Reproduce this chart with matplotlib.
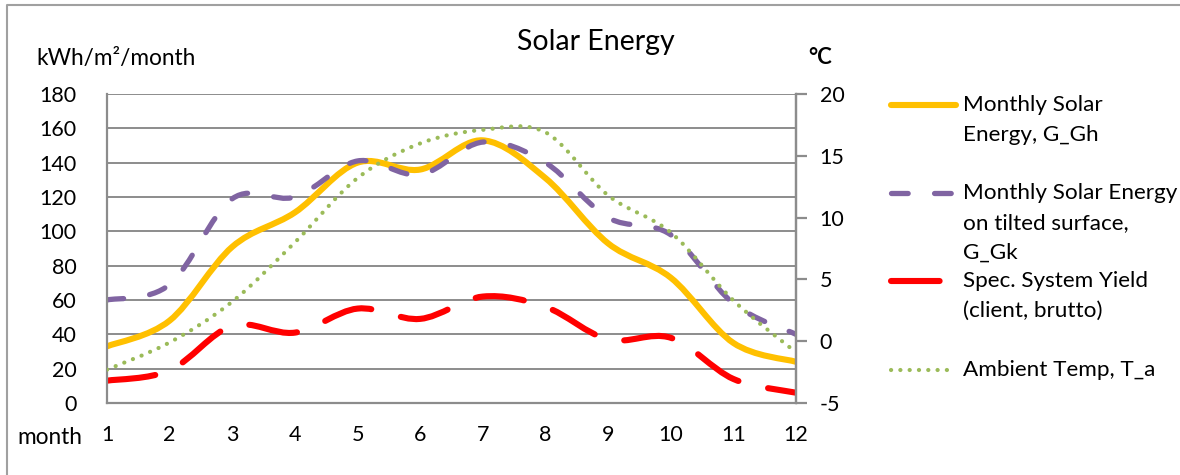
import matplotlib
matplotlib.use('Agg')
import matplotlib.pyplot as plt
from matplotlib.path import Path
from matplotlib.patches import PathPatch
from matplotlib.lines import Line2D

plt.rcParams['font.family'] = ['Lato', 'DejaVu Sans']
plt.rcParams['lines.scale_dashes'] = False
plt.rcParams['axes.unicode_minus'] = False

months = [1, 2, 3, 4, 5, 6, 7, 8, 9, 10, 11, 12]
g_gh = [33, 48, 91, 111, 140, 136, 153, 131, 93, 73, 35, 24]
g_gk = [60, 69, 119, 120, 141, 133, 152, 140, 108, 98, 58, 40]
yield_spec = [13, 19, 45, 41, 55, 49, 62, 56, 37, 38, 14, 6]
temp = [-2.3, -0.1, 3.2, 8.0, 13.2, 16.0, 17.1, 16.9, 11.8, 8.8, 3.3, -0.9]

labels = ['Monthly Solar\nEnergy, G_Gh',
          'Monthly Solar Energy\non tilted surface,\nG_Gk',
          'Spec. System Yield\n(client, brutto)',
          'Ambient Temp, T_a']

yellow = '#FFC000'
purple = '#8064A2'
red = '#FF0000'
green = '#9BBB59'
grid_col = '#8C8C8C'


def smooth_path(x, y):
    # bezier segments like Excel's "smoothed line"
    n = len(x)
    verts = [(x[0], y[0])]
    codes = [Path.MOVETO]
    for i in range(n - 1):
        a = max(i - 1, 0)
        b = min(i + 2, n - 1)
        c1 = (x[i] + (x[i + 1] - x[a]) / 6, y[i] + (y[i + 1] - y[a]) / 6)
        c2 = (x[i + 1] - (x[b] - x[i]) / 6, y[i + 1] - (y[b] - y[i]) / 6)
        verts += [c1, c2, (x[i + 1], y[i + 1])]
        codes += [Path.CURVE4] * 3
    return Path(verts, codes)


W, H = 1180, 475
fig = plt.figure(figsize=(W / 100, H / 100), dpi=100)
ax = fig.add_axes([107 / W, 1 - 403 / H, (796 - 107) / W, (403 - 94) / H])
ax2 = ax.twinx()

ax.set_xlim(1, 12)
ax.set_ylim(0, 180)
ax2.set_ylim(-5, 20)
ax.set_yticks(range(0, 181, 20))
ax2.set_yticks(range(-5, 21, 5))
ax.set_xticks(months)

ax.grid(axis='y', color=grid_col, linewidth=1.4)
ax.set_axisbelow(True)
for sp in ['top']:
    ax.spines[sp].set_visible(False)
    ax2.spines[sp].set_visible(False)
for a in (ax, ax2):
    for sp in ['left', 'bottom', 'right']:
        a.spines[sp].set_color(grid_col)
        a.spines[sp].set_linewidth(1.6)
ax2.spines['left'].set_visible(False)
ax2.spines['bottom'].set_visible(False)

ax.tick_params(axis='y', length=0, labelsize=15.5, pad=22)
ax.tick_params(axis='x', length=0, labelsize=15.5, pad=16)
ax2.tick_params(axis='y', length=8, width=1.6, color=grid_col, labelsize=15.5, pad=9)

styles = [
    (g_gh, yellow, 4.4, 'solid', ax),
    (g_gk, purple, 3.8, (0, (12, 19)), ax),
    (yield_spec, red, 4.4, (0, (35, 22)), ax),
    (temp, green, 3.0, (0, (0.1, 6.6)), ax2),
]
for vals, col, lw, ls, a in styles:
    patch = PathPatch(smooth_path(months, vals), fill=False, edgecolor=col,
                      linewidth=lw, linestyle=ls, capstyle='round', joinstyle='round')
    a.add_patch(patch)

# titles and axis captions
fig.text(596 / W, 1 - 42 / H, 'Solar Energy', fontsize=20.5, ha='center', va='center')
fig.text(36 / W, 1 - 58 / H, 'kWh/m²/month', fontsize=16.3, ha='left', va='center')
fig.text(808 / W, 1 - 58 / H, '°C', fontsize=16, fontweight='bold', ha='left', va='center')
fig.text(17 / W, 1 - 438 / H, 'month', fontsize=16.3, ha='left', va='center')

# legend drawn by hand so that handles sit at the first text line
leg_y = [105, 193, 281, 370]
for (vals, col, lw, ls, a), lab, yy in zip(styles, labels, leg_y):
    fig.add_artist(Line2D([891 / W, 956 / W], [1 - yy / H, 1 - yy / H],
                          transform=fig.transFigure, color=col, linewidth=lw,
                          linestyle=ls, solid_capstyle='round', dash_capstyle='round'))
    fig.text(963 / W, 1 - (yy - 10) / H, lab, fontsize=16.2, ha='left', va='top',
             linespacing=1.62)

# chart area border
fig.add_artist(Line2D([7 / W, 7 / W, 1.0], [0.0, 1 - 5 / H, 1 - 5 / H],
                      transform=fig.transFigure, color='#A0A0A0', linewidth=1.5))

plt.savefig('out.png', dpi=100)
plt.close()
